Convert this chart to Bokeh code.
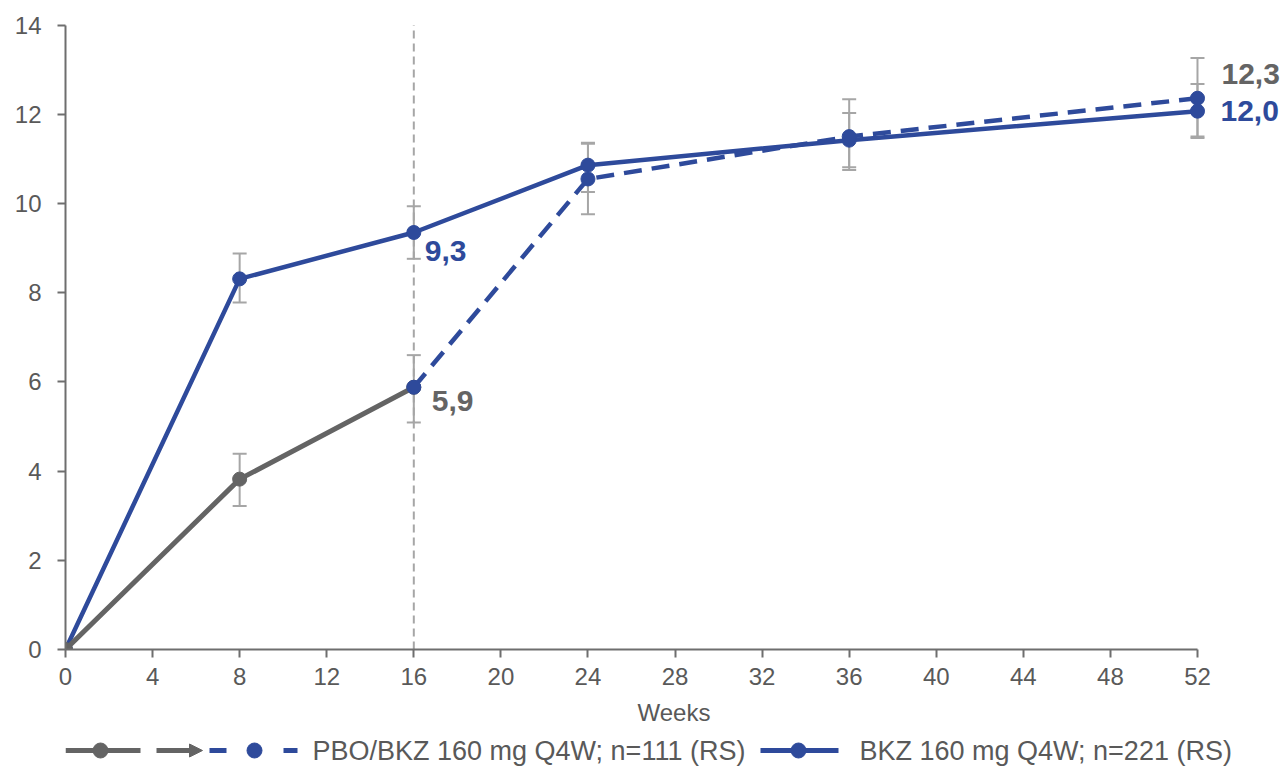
from bokeh.plotting import figure
from bokeh.models import Range1d, ColumnDataSource, Whisker, TeeHead, FixedTicker, Arrow, NormalHead
from bokeh.layouts import column
from bokeh.embed import file_html
from bokeh.resources import INLINE
from bokeh.core.properties import value

# ---------------- data ----------------
weeks = [0, 8, 16, 24, 36, 52]
bkz_mean = [0.0, 8.31, 9.35, 10.86, 11.42, 12.07]
err_weeks = [8, 16, 24, 36, 52]
bkz_upper = [8.88, 9.94, 11.36, 12.03, 12.68]
bkz_lower = [7.78, 8.76, 10.26, 10.81, 11.50]

pbo_weeks = [0, 8, 16]
pbo_mean = [0.0, 3.82, 5.88]
switch_weeks = [16, 24, 36, 52]
switch_mean = [5.88, 10.55, 11.50, 12.36]
pbo_upper = [4.39, 6.60, 11.34, 12.34, 13.26]
pbo_lower = [3.22, 5.09, 9.76, 10.75, 11.47]

x_ticks = list(range(0, 53, 4))
y_ticks = list(range(0, 15, 2))
switch_week = 16
y_top = 14

label_bkz16 = "9,3"
label_pbo16 = "5,9"
label_switch52 = "12,3"
label_bkz52 = "12,0"
legend_pbo = "PBO/BKZ 160 mg Q4W; n=111 (RS)"
legend_bkz = "BKZ 160 mg Q4W; n=221 (RS)"
x_title = "Weeks"

# ---------------- style ----------------
BLUE = "#2E4A9B"
GREY = "#646464"
ERR = "#A6A6A6"
TXT = "#595959"
AXIS = "#6E6E6E"
FONT = "Liberation Sans"

PX_PER_WEEK = 21.769
PX_PER_UNIT = 44.6
LEFT, FW, FH = 65, 1217, 638

p = figure(frame_width=FW, frame_height=FH,
           x_range=Range1d(0, FW / PX_PER_WEEK), y_range=Range1d(0, FH / PX_PER_UNIT),
           output_backend="svg", toolbar_location=None,
           min_border_left=LEFT, min_border_right=2, min_border_top=11, min_border_bottom=86)
p.outline_line_color = None
p.grid.visible = False

for ax in (p.xaxis[0], p.yaxis[0]):
    ax.axis_line_color = AXIS
    ax.axis_line_width = 2
    ax.major_tick_line_color = AXIS
    ax.major_tick_line_width = 2
    ax.major_tick_in = 0
    ax.major_tick_out = 8
    ax.minor_tick_line_color = None
    ax.major_label_text_font = FONT
    ax.major_label_text_font_size = "24px"
    ax.major_label_text_color = TXT

p.xaxis.ticker = FixedTicker(ticks=x_ticks)
p.yaxis.ticker = FixedTicker(ticks=y_ticks)
p.xaxis.bounds = (0, 52)
p.yaxis.bounds = (0, 14)
p.xaxis.major_label_standoff = 10
p.yaxis.major_label_standoff = 16
p.xaxis.axis_label = x_title
p.xaxis.axis_label_text_font = FONT
p.xaxis.axis_label_text_font_size = "24px"
p.xaxis.axis_label_text_font_style = "normal"
p.xaxis.axis_label_text_color = TXT
p.xaxis.axis_label_standoff = 11

# vertical reference line at week 16
p.segment(x0=[switch_week], y0=[0], x1=[switch_week], y1=[y_top],
          line_color=ERR, line_width=2, line_dash="8 5")

# error bars
for lo, up in ((pbo_lower, pbo_upper), (bkz_lower, bkz_upper)):
    src = ColumnDataSource(dict(x=err_weeks, lower=lo, upper=up))
    w = Whisker(base="x", lower="lower", upper="upper", source=src, dimension="height",
                line_color=ERR, line_width=2,
                upper_head=TeeHead(size=14, line_color=ERR, line_width=2),
                lower_head=TeeHead(size=14, line_color=ERR, line_width=2))
    p.add_layout(w)

# BKZ line
p.line(weeks, bkz_mean, line_color=BLUE, line_width=4.5)
p.scatter(weeks, bkz_mean, size=14, marker="circle", fill_color=BLUE, line_color=BLUE)
# PBO line
p.line(pbo_weeks, pbo_mean, line_color=GREY, line_width=5)
p.scatter(pbo_weeks, pbo_mean, size=14, marker="circle", fill_color=GREY, line_color=GREY)
# PBO -> BKZ dashed
p.line(switch_weeks, switch_mean, line_color=BLUE, line_width=4.5, line_dash="18 10")
p.scatter(switch_weeks, switch_mean, size=14, marker="circle", fill_color=BLUE, line_color=BLUE)

# value labels
def lab(x, y, t, color, dx, dy):
    p.text(x=[x], y=[y], text=[t], text_font=value(FONT), text_font_style="bold",
           text_font_size="30px", text_color=color, text_align="left",
           text_baseline="middle", x_offset=dx, y_offset=dy)

lab(weeks[2], bkz_mean[2], label_bkz16, BLUE, 11, 19)
lab(pbo_weeks[2], pbo_mean[2], label_pbo16, GREY, 18, 14)
lab(switch_weeks[3], switch_mean[3], label_switch52, GREY, 24, -24)
lab(weeks[5], bkz_mean[5], label_bkz52, BLUE, 23, 0)

# ---------------- legend strip (frame aligned with the chart's frame) ----------------
lg = figure(frame_width=FW, frame_height=32, x_range=Range1d(LEFT, LEFT + FW), y_range=Range1d(767, 735),
            output_backend="svg", toolbar_location=None,
            x_axis_location=None, y_axis_location=None,
            min_border_left=LEFT, min_border_right=2, min_border_top=0, min_border_bottom=0)
lg.grid.visible = False
lg.outline_line_color = None
ly = 750
lg.segment(x0=[65], y0=[ly], x1=[140], y1=[ly], line_color=GREY, line_width=5)
lg.scatter([100], [ly], size=15, marker="circle", fill_color=GREY, line_color=GREY)
lg.add_layout(Arrow(x_start=156, y_start=ly, x_end=202, y_end=ly, line_color=GREY, line_width=5,
                    end=NormalHead(size=13, fill_color=GREY, line_color=GREY, line_width=1)))
lg.segment(x0=[209, 283], y0=[ly, ly], x1=[226, 297], y1=[ly, ly], line_color=BLUE, line_width=5)
lg.scatter([254], [ly], size=15, marker="circle", fill_color=BLUE, line_color=BLUE)
lg.text(x=[312], y=[ly], text=[legend_pbo], text_font=value(FONT), text_font_size="27px",
        text_color=TXT, text_align="left", text_baseline="middle")
lg.segment(x0=[760], y0=[ly], x1=[838], y1=[ly], line_color=BLUE, line_width=5)
lg.scatter([798], [ly], size=15, marker="circle", fill_color=BLUE, line_color=BLUE)
lg.text(x=[859], y=[ly], text=[legend_bkz], text_font=value(FONT), text_font_size="27px",
        text_color=TXT, text_align="left", text_baseline="middle")

layout = column(p, lg, spacing=0)
open("out.html", "w").write(file_html(layout, INLINE))
